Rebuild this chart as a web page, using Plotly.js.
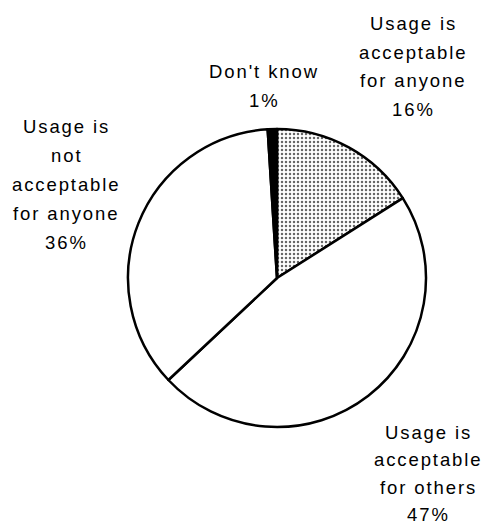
<!DOCTYPE html>
<html>
<head>
<meta charset="utf-8">
<script src="https://cdn.plot.ly/plotly-3.0.1.min.js"></script>
<style>
html, body { margin: 0; padding: 0; background: #fff; }
#chart { width: 494px; height: 525px; }
.annotation-text { letter-spacing: 1.9px; }
</style>
</head>
<body>
<div id="chart"></div>
<script>
// Slices in clockwise order starting from 12 o'clock
const labels = [
  "Usage is<br>acceptable<br>for anyone",
  "Usage is<br>acceptable<br>for others",
  "Usage is<br>not<br>acceptable<br>for anyone",
  "Don't know"
];
const values = [16, 47, 36, 1];
const sliceColors = ["#ffffff", "#ffffff", "#ffffff", "#000000"];
const slicePatterns = [".", "", "", ""];

// Label placement (pixel centre of first line) and line gap
const labelPos = [
  { x: 413, y: 24, gap: 28.5 },
  { x: 428, y: 432, gap: 27.5 },
  { x: 66, y: 126, gap: 29 },
  { x: 264, y: 72, gap: 28 }
];

const W = 494, H = 525;
const cx = 277, cy = 278, r = 149;

const annotations = [];
labels.forEach((lab, i) => {
  const lines = lab.split("<br>").concat([values[i] + "%"]);
  const p = labelPos[i];
  lines.forEach((ln, k) => {
    annotations.push({
      text: ln,
      xref: "paper", yref: "paper",
      x: p.x / W, y: 1 - (p.y + k * p.gap) / H,
      xanchor: "center", yanchor: "middle",
      showarrow: false,
      font: { family: "Liberation Sans, Arial, sans-serif", size: 18.5, color: "#000" }
    });
  });
});

const trace = {
  type: "pie",
  labels: labels,
  values: values,
  sort: false,
  direction: "clockwise",
  rotation: 0,
  textinfo: "none",
  hoverinfo: "none",
  showlegend: false,
  domain: { x: [(cx - r) / W, (cx + r) / W], y: [(H - cy - r) / H, (H - cy + r) / H] },
  marker: {
    colors: sliceColors,
    line: { color: "#000", width: 2.5 },
    pattern: { shape: slicePatterns, fgcolor: "#666", bgcolor: "#ffffff", size: 4, solidity: 0.3 }
  }
};

const layout = {
  width: W, height: H,
  margin: { l: 0, r: 0, t: 0, b: 0 },
  paper_bgcolor: "#fff",
  plot_bgcolor: "#fff",
  showlegend: false,
  annotations: annotations
};

Plotly.newPlot("chart", [trace], layout, { displayModeBar: false, staticPlot: true });
</script>
</body>
</html>
